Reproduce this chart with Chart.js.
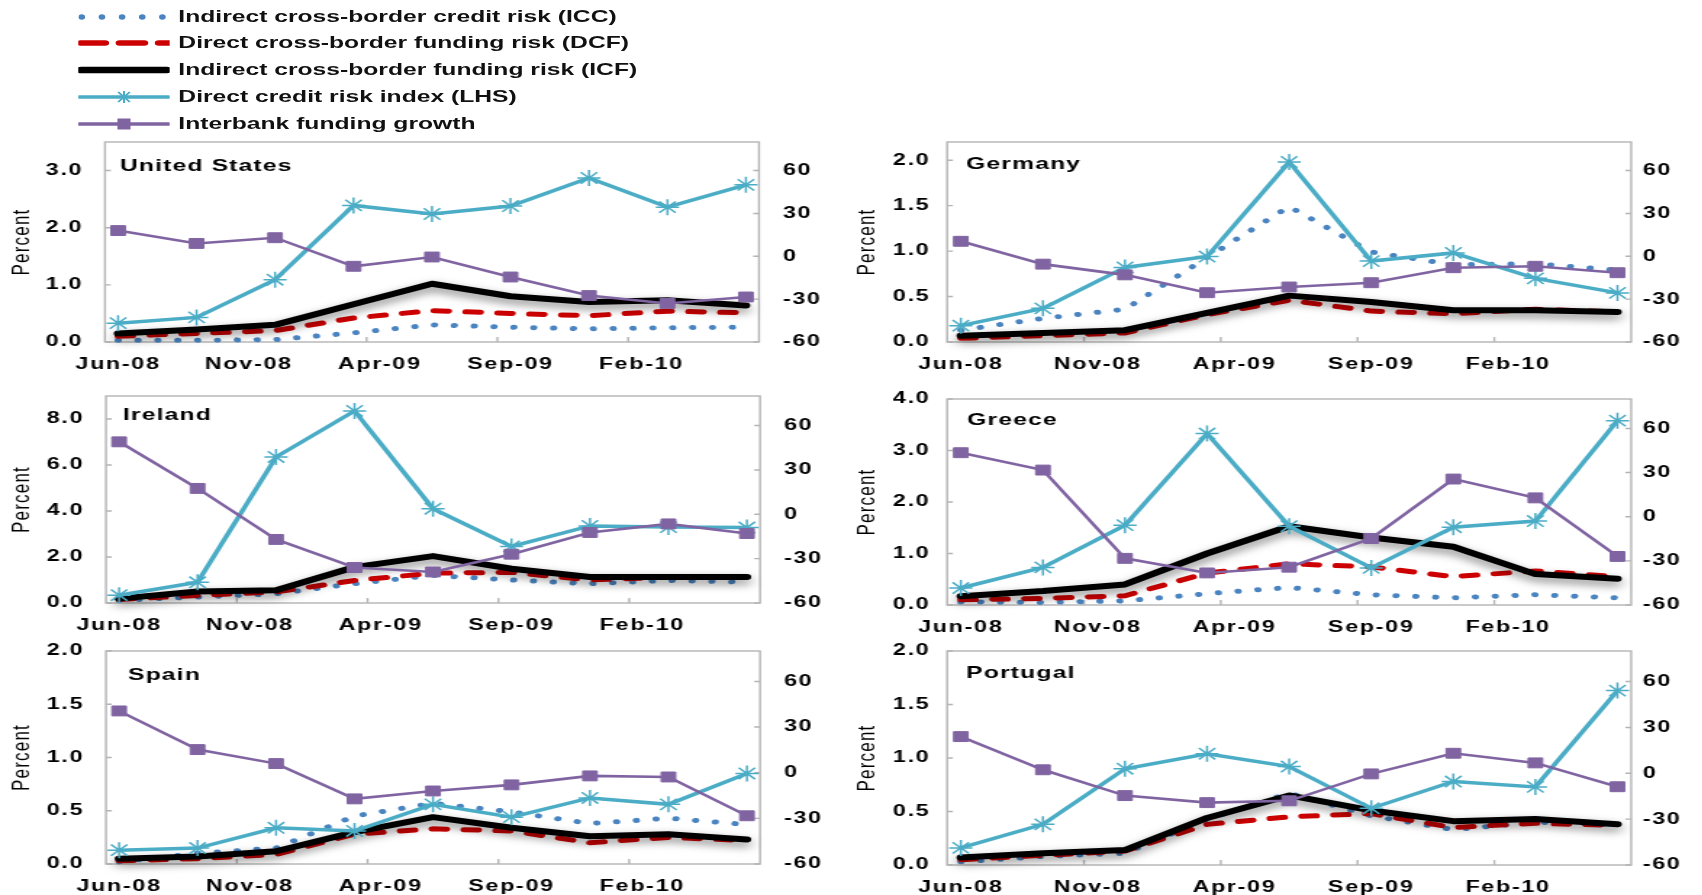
<!DOCTYPE html>
<html>
<head>
<meta charset="utf-8">
<script src="https://cdn.jsdelivr.net/npm/chart.js@4/dist/chart.umd.min.js"></script>
<style>
html,body{margin:0;padding:0;background:#fff;width:1702px;height:895px;overflow:hidden;}
#stage{position:absolute;left:0;top:0;width:1174px;height:895px;transform:scaleX(1.45);transform-origin:0 0;}
#stage canvas{position:absolute;}
.lg{position:absolute;left:54px;height:20px;display:flex;align-items:center;font:bold 17px Arial,"Liberation Sans",sans-serif;color:#111;white-space:nowrap;}
.lg svg{display:block;margin-right:6px;}
</style>
</head>
<body>
<div id="stage"></div>
<script>
// ---------------- data ----------------
const monthLabels = ["Jun-08","Jul-08","Aug-08","Sep-08","Oct-08","Nov-08","Dec-08","Jan-09","Feb-09","Mar-09","Apr-09","May-09","Jun-09","Jul-09","Aug-09","Sep-09","Oct-09","Nov-09","Dec-09","Jan-10","Feb-10","Mar-10","Apr-10","May-10","Jun-10"];
const xTickLabels = ["Jun-08","Nov-08","Apr-09","Sep-09","Feb-10"];
const quarters = ["Jun-08","Sep-08","Dec-08","Mar-09","Jun-09","Sep-09","Dec-09","Mar-10","Jun-10"];
const seriesNames = ["Indirect cross-border credit risk (ICC)","Direct cross-border funding risk (DCF)","Indirect cross-border funding risk (ICF)","Direct credit risk index (LHS)","Interbank funding growth"];
const countries = ["United States","Germany","Ireland","Greece","Spain","Portugal"];
const leftMax  = [3.5, 2.2, 9, 4, 2, 2];
const leftStep = [1, 0.5, 2, 1, 0.5, 0.5];
const rightTicks = [-60, -30, 0, 30, 60];
const rightMin = -60, rightMax = 80;

const usICC = [0.03, 0.03, 0.04, 0.16, 0.30, 0.26, 0.23, 0.25, 0.26];
const usDCF = [0.10, 0.15, 0.20, 0.42, 0.55, 0.50, 0.46, 0.54, 0.51];
const usICF = [0.15, 0.22, 0.30, 0.66, 1.02, 0.80, 0.70, 0.73, 0.64];
const usDCR = [0.33, 0.43, 1.09, 2.39, 2.24, 2.38, 2.87, 2.36, 2.75];
const usIFG = [18, 9, 13, -7, -0.5, -14.5, -27.5, -33, -28.5];

const deICC = [0.13, 0.26, 0.36, 0.93, 1.49, 0.99, 0.85, 0.86, 0.79];
const deDCF = [0.04, 0.07, 0.10, 0.30, 0.46, 0.34, 0.31, 0.36, 0.33];
const deICF = [0.07, 0.10, 0.13, 0.32, 0.51, 0.44, 0.35, 0.35, 0.33];
const deDCR = [0.18, 0.37, 0.82, 0.94, 1.98, 0.89, 0.98, 0.70, 0.54];
const deIFG = [10.5, -5.5, -13, -25.5, -21.5, -18.5, -8, -7, -11.5];

const ieICC = [0.12, 0.26, 0.40, 0.84, 1.20, 1.00, 0.84, 0.98, 0.91];
const ieDCF = [0.15, 0.33, 0.48, 0.98, 1.30, 1.33, 1.00, 1.12, 1.12];
const ieICF = [0.19, 0.50, 0.55, 1.56, 2.04, 1.49, 1.13, 1.13, 1.13];
const ieDCR = [0.34, 0.90, 6.35, 8.35, 4.10, 2.46, 3.35, 3.30, 3.28];
const ieIFG = [49, 17.5, -17, -36, -39, -27, -12.3, -6.5, -13];

const grICC = [0.06, 0.05, 0.08, 0.22, 0.34, 0.20, 0.14, 0.20, 0.14];
const grDCF = [0.10, 0.13, 0.18, 0.62, 0.80, 0.74, 0.55, 0.66, 0.55];
const grICF = [0.17, 0.27, 0.40, 1.00, 1.53, 1.31, 1.13, 0.60, 0.51];
const grDCR = [0.33, 0.73, 1.55, 3.33, 1.53, 0.72, 1.51, 1.63, 3.58];
const grIFG = [43.5, 31.7, -28.3, -38.2, -34.3, -14.8, 25.6, 12.8, -27];

const esICC = [0.02, 0.10, 0.15, 0.45, 0.57, 0.49, 0.38, 0.43, 0.37];
const esDCF = [0.03, 0.05, 0.09, 0.28, 0.33, 0.31, 0.20, 0.25, 0.22];
const esICF = [0.05, 0.07, 0.12, 0.30, 0.44, 0.34, 0.26, 0.28, 0.23];
const esDCR = [0.13, 0.15, 0.34, 0.31, 0.56, 0.44, 0.62, 0.56, 0.85];
const esIFG = [40.6, 15.2, 6, -17.2, -12, -8, -2.1, -2.8, -28.3];

const ptICC = [0.03, 0.08, 0.11, 0.43, 0.67, 0.46, 0.33, 0.40, 0.38];
const ptDCF = [0.05, 0.09, 0.13, 0.38, 0.45, 0.48, 0.35, 0.39, 0.37];
const ptICF = [0.07, 0.11, 0.14, 0.44, 0.65, 0.51, 0.41, 0.43, 0.38];
const ptDCR = [0.16, 0.38, 0.90, 1.04, 0.92, 0.53, 0.78, 0.73, 1.63];
const ptIFG = [24, 2.3, -14.6, -19.2, -18, -0.4, 13.1, 6.8, -8.8];

const panelSeries = [
  [usICC, usDCF, usICF, usDCR, usIFG],
  [deICC, deDCF, deICF, deDCR, deIFG],
  [ieICC, ieDCF, ieICF, ieDCR, ieIFG],
  [grICC, grDCF, grICF, grDCR, grIFG],
  [esICC, esDCF, esICF, esDCR, esIFG],
  [ptICC, ptDCF, ptICF, ptDCR, ptIFG]
];

// ---------------- layout / style ----------------
const S = 1.45;              // horizontal stretch of the whole picture
const PT = 30, XH = 36;      // canvas padding above plot, x-axis band height
const FONT = 'Arial, "Liberation Sans", sans-serif';
const C_BLUE = '#4a84c0', C_RED = '#cc0000', C_BLACK = '#000000', C_CYAN = '#4bacc6', C_PURPLE = '#8064a2';
const colEdges = [[0, 851], [851, 1702]];
const boxes = [
  {col:0, l:105, r:759,  t:142, b:342, tx:15, ty:24},
  {col:1, l:947, r:1631, t:142, b:342, tx:19, ty:22},
  {col:0, l:106, r:760,  t:396, b:603, tx:17, ty:19},
  {col:1, l:947, r:1631, t:399, b:605, tx:20, ty:21},
  {col:0, l:106, r:760,  t:651, b:864, tx:22, ty:24},
  {col:1, l:947, r:1631, t:651, b:865, tx:19, ty:22}
];
const colStyle = [
  {titlePad: 5.2, leftPad: 15, rightPad: 16.5},
  {titlePad: 0.8, leftPad: 11.5, rightPad: 8}
];

const stage = document.getElementById('stage');

// ---------------- legend ----------------
const legendY = [17, 43, 70, 97, 124];
function swatch(k) {
  const W = 63, H = 14, cy = 7;
  let s = `<svg width="${W}" height="${H}" viewBox="0 0 ${W} ${H}">`;
  if (k === 0) {
    for (let i = 0; i < 5; i++) s += `<ellipse cx="${2.4 + i * 13.9}" cy="${cy}" rx="2.3" ry="2.8" fill="${C_BLUE}"/>`;
  } else if (k === 1) {
    s += `<line x1="1.5" y1="${cy}" x2="${W}" y2="${cy}" stroke="${C_RED}" stroke-width="5.5" stroke-linecap="round" stroke-dasharray="17 10"/>`;
  } else if (k === 2) {
    s += `<line x1="2" y1="${cy}" x2="${W - 2}" y2="${cy}" stroke="${C_BLACK}" stroke-width="6.5" stroke-linecap="round"/>`;
  } else if (k === 3) {
    const m = W / 2;
    s += `<line x1="1" y1="${cy}" x2="${W - 1}" y2="${cy}" stroke="${C_CYAN}" stroke-width="3.5" stroke-linecap="round"/>`;
    s += `<path d="M${m - 4} ${cy - 5}L${m + 4} ${cy + 5}M${m + 4} ${cy - 5}L${m - 4} ${cy + 5}M${m} ${cy - 6}L${m} ${cy + 6}" stroke="${C_CYAN}" stroke-width="1.4"/>`;
  } else {
    const m = W / 2;
    s += `<line x1="1" y1="${cy}" x2="${W - 1}" y2="${cy}" stroke="${C_PURPLE}" stroke-width="3.5" stroke-linecap="round"/>`;
    s += `<rect x="${m - 4.5}" y="${cy - 5.5}" width="9" height="11" fill="${C_PURPLE}"/>`;
  }
  return s + '</svg>';
}
seriesNames.forEach((name, k) => {
  const d = document.createElement('div');
  d.className = 'lg';
  d.style.top = (legendY[k] - 10) + 'px';
  d.innerHTML = swatch(k) + '<span></span>';
  d.querySelector('span').textContent = name;
  stage.appendChild(d);
});

// ---------------- plugin ----------------
const deco = {
  id: 'deco',
  beforeUpdate(chart) { chart.ctx.letterSpacing = '1.2px'; },
  beforeDraw(chart) { chart.ctx.letterSpacing = '1.2px'; },
  beforeDatasetsDraw(chart) {
    const {ctx, chartArea: a} = chart;
    ctx.save();
    ctx.strokeStyle = '#b4b4b4';
    ctx.lineWidth = 1.4;
    ctx.strokeRect(a.left, a.top, a.right - a.left, a.bottom - a.top);
    const sx = chart.scales.x, sy = chart.scales.y, sy2 = chart.scales.y2;
    ctx.beginPath();
    xTickLabels.forEach(l => {
      const idx = monthLabels.indexOf(l);
      if (idx > 0) {
        const px = (sx.getPixelForValue(idx) + sx.getPixelForValue(idx - 1)) / 2;
        ctx.moveTo(px, a.bottom); ctx.lineTo(px, a.bottom - 5);
      }
    });
    sy.ticks.forEach(t => { const py = sy.getPixelForValue(t.value); ctx.moveTo(a.left, py); ctx.lineTo(a.left + 4, py); });
    sy2.ticks.forEach(t => { const py = sy2.getPixelForValue(t.value); ctx.moveTo(a.right, py); ctx.lineTo(a.right - 4, py); });
    ctx.stroke();
    ctx.restore();
  },
  beforeDatasetDraw(chart, args) {
    if (chart.data.datasets[args.index].shadow) {
      const ctx = chart.ctx;
      ctx.save();
      ctx.shadowColor = 'rgba(0,0,0,0.5)';
      ctx.shadowBlur = 8;
      ctx.shadowOffsetY = 4;
    }
  },
  afterDatasetDraw(chart, args) {
    if (chart.data.datasets[args.index].shadow) chart.ctx.restore();
  },
  afterDraw(chart, args, opts) {
    const {ctx, chartArea: a} = chart;
    ctx.save();
    ctx.letterSpacing = '0.8px';
    ctx.font = 'bold 17px ' + FONT;
    ctx.fillStyle = '#000';
    ctx.textAlign = 'left';
    ctx.textBaseline = 'middle';
    ctx.fillText(opts.title, a.left + opts.tx, a.top + opts.ty);
    ctx.restore();
  }
};

// ---------------- charts ----------------
function leftTicks(max, step) {
  const out = [];
  for (let k = 0; k * step <= max + 1e-9; k++) out.push({value: +(k * step).toFixed(4)});
  return out;
}

boxes.forEach((bx, i) => {
  const [cL, cR] = colEdges[bx.col];
  const cs = colStyle[bx.col];
  const cw = Math.round((cR - cL) / S);
  const top = bx.t - PT;
  const h = bx.b - bx.t + PT + XH;
  const canvas = document.createElement('canvas');
  canvas.width = cw; canvas.height = h;
  canvas.style.left = (cL / S) + 'px';
  canvas.style.top = top + 'px';
  canvas.style.width = cw + 'px';
  canvas.style.height = h + 'px';
  stage.appendChild(canvas);

  const Lw = (bx.l - cL) / S;
  const Rw = cw - (bx.r - cL) / S;
  const [icc, dcf, icf, dcr, ifg] = panelSeries[i];
  const pts = vals => quarters.map((q, k) => ({x: q, y: vals[k]}));
  const tickFont = {family: FONT, size: 16, weight: 'bold'};

  new Chart(canvas, {
    type: 'line',
    data: {
      labels: monthLabels,
      datasets: [
        {label: seriesNames[4], data: pts(ifg), yAxisID: 'y2', order: 1,
         borderColor: C_PURPLE, backgroundColor: C_PURPLE, borderWidth: 2.6,
         pointStyle: 'rect', pointRadius: 7, pointBorderWidth: 1, pointBorderColor: C_PURPLE, pointBackgroundColor: C_PURPLE},
        {label: seriesNames[3], data: pts(dcr), yAxisID: 'y', order: 2,
         borderColor: C_CYAN, backgroundColor: C_CYAN, borderWidth: 3.5,
         pointStyle: 'star', pointRadius: 8, pointBorderWidth: 1.5, pointBorderColor: C_CYAN},
        {label: seriesNames[2], data: pts(icf), yAxisID: 'y', order: 3, shadow: true,
         borderColor: C_BLACK, borderWidth: 6, pointRadius: 0, borderCapStyle: 'round', borderJoinStyle: 'round'},
        {label: seriesNames[1], data: pts(dcf), yAxisID: 'y', order: 4,
         borderColor: C_RED, borderWidth: 5, pointRadius: 0, borderDash: [10, 12], borderCapStyle: 'round'},
        {label: seriesNames[0], data: pts(icc), yAxisID: 'y', order: 5,
         borderColor: C_BLUE, borderWidth: 5, pointRadius: 0, borderDash: [0.1, 13.6], borderCapStyle: 'round'}
      ]
    },
    options: {
      responsive: false,
      animation: false,
      devicePixelRatio: 1,
      clip: false,
      layout: {padding: {top: PT, bottom: 0, left: 0, right: 0}},
      plugins: {
        legend: {display: false},
        tooltip: {enabled: false},
        deco: {title: countries[i], tx: bx.tx / S, ty: bx.ty}
      },
      scales: {
        x: {
          type: 'category', offset: true,
          grid: {display: false, drawTicks: false}, border: {display: false},
          ticks: {
            autoSkip: false, maxRotation: 0, minRotation: 0, padding: 12.5, color: '#000', font: tickFont,
            callback: function (v) { const l = this.getLabelForValue(v); return xTickLabels.includes(l) ? l : ''; }
          },
          afterFit: s => { s.height = XH; }
        },
        y: {
          position: 'left', min: 0, max: leftMax[i],
          grid: {display: false, drawTicks: false}, border: {display: false},
          ticks: {padding: cs.leftPad, color: '#000', font: tickFont, callback: v => Number(v).toFixed(1)},
          afterBuildTicks: s => { s.ticks = leftTicks(leftMax[i], leftStep[i]); },
          title: {display: true, text: 'Percent', color: '#000', font: {family: FONT, size: 17}, padding: {top: cs.titlePad, bottom: 0}},
          afterFit: s => { s.width = Lw; }
        },
        y2: {
          position: 'right', min: rightMin, max: rightMax,
          grid: {display: false, drawTicks: false}, border: {display: false},
          ticks: {padding: cs.rightPad, crossAlign: 'near', color: '#000', font: tickFont, callback: v => String(v)},
          afterBuildTicks: s => { s.ticks = rightTicks.map(v => ({value: v})); },
          afterFit: s => { s.width = Rw; }
        }
      }
    },
    plugins: [deco]
  });
});
</script>
</body>
</html>
